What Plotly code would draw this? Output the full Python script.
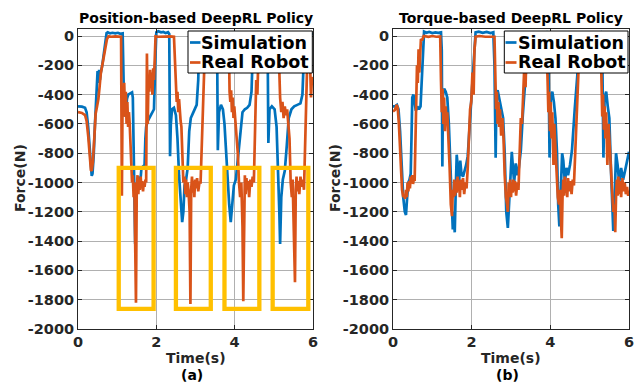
import plotly.graph_objects as go

# ---------------- data ----------------
# (a) Position-based DeepRL Policy
t_sim_a = [0.00,0.10,0.18,0.22,0.26,0.30,0.33,0.35,0.37,0.40,0.43,0.46,0.48,0.50,0.52,0.54,0.56,0.58,0.62,0.66,0.70,0.73,0.76,0.82,0.88,0.95,1.02,1.08,1.14,
           1.16,1.18,1.22,1.25,1.28,1.33,1.38,1.40,1.42,1.44,1.46,1.48,1.50,1.53,1.56,1.59,1.62,1.66,1.70,1.72,1.74,1.78,1.84,1.90,1.94,1.97,
           2.00,2.05,2.12,2.18,2.24,2.30,2.33,2.35,2.37,2.40,2.45,2.50,2.54,2.58,2.62,2.66,2.69,2.72,2.76,2.80,2.84,2.88,2.93,2.98,3.03,3.07,
           3.10,3.15,3.30,3.45,3.55,3.57,3.60,3.65,3.70,3.74,3.80,3.86,3.90,3.94,3.98,4.03,4.08,4.14,4.20,4.26,4.32,4.38,4.43,4.47,
           4.50,4.70,4.84,4.86,4.89,4.95,5.02,5.07,5.11,5.14,5.16,5.19,5.23,5.28,5.33,5.38,5.45,5.52,5.60,5.68,5.73,5.76,5.79,6.00]
f_sim_a = [-480,-482,-490,-520,-620,-800,-920,-955,-940,-820,-620,-420,-280,-240,-320,-230,-300,-250,-200,-120,-40,20,25,18,22,18,22,15,18,
           -200,-520,-550,-430,-400,-390,-385,-420,-700,-1000,-1420,-1100,-1050,-1000,-960,-1000,-900,-890,-880,-700,-620,-580,-550,-530,-500,-200,
           25,32,25,28,20,26,15,-820,-600,-500,-490,-540,-700,-950,-1150,-1270,-1200,-1020,-980,-900,-650,-560,-530,-500,-470,-300,
           0,20,20,20,15,-780,-520,-470,-500,-600,-900,-1150,-1270,-1150,-1020,-980,-850,-650,-520,-500,-490,-470,-380,-50,
           20,20,15,-730,-500,-480,-500,-620,-900,-1200,-1420,-1100,-980,-920,-750,-560,-500,-480,-470,-460,-400,-100,20,15]

t_real_a = [0.00,0.10,0.18,0.22,0.26,0.30,0.33,0.35,0.38,0.42,0.45,0.48,0.50,0.52,0.55,0.58,0.62,0.66,0.70,0.74,0.78,0.85,0.95,1.05,1.10,
            1.12,1.14,1.16,1.18,1.20,1.22,1.24,1.26,1.28,1.30,1.32,1.35,1.38,1.40,1.42,1.44,1.46,1.48,1.50,1.52,1.54,1.56,1.58,1.60,1.62,1.64,
            1.66,1.68,1.70,1.72,1.74,1.76,1.78,1.80,1.82,1.84,1.86,1.88,1.90,1.92,1.94,1.96,1.98,2.05,2.15,2.25,2.35,2.45,
            2.48,2.50,2.52,2.54,2.56,2.58,2.60,2.62,2.64,2.66,2.69,2.72,2.74,2.76,2.78,2.80,2.82,2.85,2.87,2.89,2.91,2.93,2.95,2.97,2.99,
            3.01,3.04,3.07,3.10,3.13,3.16,3.19,3.22,3.26,3.35,3.50,3.65,3.80,3.85,
            3.87,3.89,3.91,3.93,3.95,3.97,3.99,4.02,4.05,4.08,4.11,4.14,4.17,4.20,4.22,4.24,4.26,4.28,4.30,4.32,4.34,4.37,4.40,4.43,4.46,4.49,
            4.52,4.55,4.58,4.61,4.64,4.80,4.95,5.10,
            5.13,5.16,5.19,5.22,5.25,5.28,5.31,5.34,5.37,5.40,5.43,5.46,5.48,5.50,5.52,5.54,5.56,5.58,5.60,5.62,5.65,5.68,5.71,5.74,5.77,
            5.80,5.83,5.86,5.89,5.92,5.95,5.97,6.00]
f_real_a = [-520,-525,-540,-580,-680,-830,-915,-920,-860,-680,-530,-490,-470,-430,-350,-260,-200,-140,-80,-20,-2,-5,-3,-5,-5,
            -1090,-350,-420,-320,-550,-380,-600,-450,-620,-520,-600,-780,-1000,-950,-1100,-1000,-1300,-1820,-1050,-950,-1080,-980,-1050,-960,-1040,-990,
            -1060,-1000,-1030,-980,-1000,-120,-600,-300,-380,-230,-350,-250,-400,-220,-300,-150,-2,-5,-3,-5,-3,-5,
            -250,-380,-450,-380,-520,-430,-560,-580,-620,-800,-1000,-960,-1080,-980,-1100,-1000,-1050,-1200,-1830,-1050,-960,-1070,-990,-1100,-980,
            -1040,-970,-1060,-1000,-1000,-800,-500,-250,-20,0,-5,-3,-5,-10,
            -380,-450,-370,-520,-420,-560,-480,-580,-640,-800,-1000,-1100,-1000,-1300,-1810,-1050,-950,-1080,-970,-1040,-990,-1100,-980,-1030,-960,-1000,
            -700,-300,-400,-100,-5,-3,-5,-5,
            -150,-420,-520,-450,-560,-480,-540,-500,-580,-700,-1000,-1100,-980,-1250,-1400,-1680,-1050,-960,-1060,-990,-1080,-960,-1030,-980,-1050,
            -700,-300,-100,-20,-150,-420,-300,-280]

# (b) Torque-based DeepRL Policy
t_sim_b = [0.00,0.05,0.10,0.14,0.18,0.22,0.26,0.30,0.33,0.36,0.39,0.42,0.45,0.47,0.49,0.52,0.55,0.58,0.62,0.66,0.70,0.73,0.76,0.79,0.85,0.92,1.00,1.08,1.15,1.22,
           1.24,1.255,1.27,1.30,1.34,1.38,1.42,1.46,1.50,1.52,1.54,1.57,1.60,1.62,1.65,1.68,1.71,1.74,1.78,1.82,1.86,1.90,1.95,1.99,2.03,2.07,
           2.10,2.18,2.28,2.38,2.48,2.55,2.58,2.61,2.63,2.66,2.70,2.75,2.80,2.84,2.88,2.92,2.95,2.98,3.02,3.05,3.08,3.12,3.16,3.20,3.25,3.30,3.35,3.40,
           3.45,3.60,3.75,3.90,3.95,3.98,4.01,4.05,4.09,4.13,4.17,4.20,4.23,4.26,4.30,4.33,4.37,4.41,4.45,4.50,4.55,4.62,4.68,4.74,
           4.80,5.00,5.15,5.28,5.32,5.35,5.38,5.42,5.46,5.50,5.54,5.57,5.60,5.63,5.67,5.71,5.75,5.80,5.85,5.90,5.95,6.00]
f_sim_b = [-480,-480,-470,-500,-650,-900,-1100,-1200,-1222,-1100,-1000,-980,-940,-700,-420,-400,-480,-510,-480,-500,-480,-300,-50,30,22,28,20,25,22,25,
           -100,-890,-400,-360,-380,-420,-600,-900,-1200,-1320,-1200,-1340,-1000,-810,-900,-1000,-850,-940,-960,-920,-880,-820,-600,-400,-200,-50,
           25,30,22,28,20,25,-200,-830,-400,-370,-420,-480,-560,-800,-1200,-1310,-1150,-1000,-790,-900,-1000,-870,-950,-900,-780,-540,-350,-150,
           20,25,20,25,-100,-830,-420,-380,-450,-560,-800,-1150,-1300,-1100,-800,-850,-1000,-900,-950,-880,-780,-500,-300,-80,
           20,25,20,25,-100,-830,-420,-380,-480,-560,-900,-1200,-1330,-1150,-800,-880,-1000,-900,-980,-920,-850,-790]

t_real_b = [0.00,0.05,0.09,0.12,0.15,0.19,0.23,0.26,0.28,0.31,0.33,0.35,0.37,0.39,0.41,0.43,0.45,0.47,0.49,0.51,0.53,0.55,0.57,0.59,0.61,0.63,0.65,0.67,0.69,0.71,0.74,
            0.78,0.90,1.00,1.10,1.20,
            1.22,1.24,1.26,1.28,1.30,1.32,1.34,1.36,1.38,1.41,1.44,1.47,1.50,1.52,1.54,1.56,1.58,1.60,1.62,1.64,1.66,1.68,1.70,1.72,1.75,1.78,1.81,1.84,1.87,
            1.90,1.93,1.96,1.99,2.02,2.05,2.07,2.10,2.20,2.35,2.50,2.58,
            2.60,2.62,2.64,2.66,2.68,2.70,2.72,2.75,2.78,2.81,2.84,2.87,2.90,2.92,2.94,2.96,2.98,3.00,3.02,3.04,3.06,3.08,3.10,3.13,3.16,3.19,
            3.22,3.25,3.28,3.31,3.34,3.37,3.40,3.45,3.60,3.75,3.90,
            3.93,3.95,3.97,3.99,4.01,4.03,4.05,4.08,4.10,4.13,4.16,4.19,4.22,4.25,4.27,4.29,4.31,4.33,4.35,4.37,4.39,4.41,4.43,4.45,4.48,4.51,4.54,4.57,4.60,
            4.63,4.66,4.69,4.72,4.75,4.90,5.05,5.20,5.28,
            5.30,5.32,5.34,5.36,5.38,5.40,5.42,5.45,5.48,5.51,5.54,5.57,5.60,5.63,5.65,5.67,5.69,5.71,5.73,5.75,5.77,5.80,5.83,5.86,5.89,5.92,5.95,5.98,6.00]
f_real_b = [-515,-505,-470,-490,-600,-850,-1050,-1100,-1090,-1110,-1050,-1100,-1000,-1060,-990,-1040,-960,-1000,-950,-1010,-970,-990,-700,-330,-200,-320,-90,-250,-60,-20,-30,
            0,-5,0,-5,-3,
            -300,-520,-360,-600,-420,-650,-480,-600,-520,-680,-900,-1150,-1230,-1050,-1100,-980,-1090,-1000,-1070,-960,-1050,-990,-1100,-980,-1050,-970,-1080,-1000,-1040,
            -900,-700,-500,-450,-250,-400,-100,-5,0,-5,-3,-5,
            -250,-500,-380,-600,-450,-620,-500,-680,-560,-700,-950,-1100,-1150,-1200,-1000,-1080,-980,-1100,-1000,-1070,-980,-1060,-990,-1090,-1000,-1050,
            -800,-560,-600,-400,-200,-350,-20,0,-5,0,-5,
            -300,-520,-380,-650,-450,-700,-520,-880,-600,-750,-950,-1100,-1150,-1050,-1250,-1380,-1100,-980,-1090,-960,-1070,-1000,-1100,-970,-1060,-990,-1080,-980,-1020,
            -800,-550,-350,-100,-10,-5,0,-5,-5,
            -300,-550,-400,-640,-480,-700,-520,-880,-600,-750,-950,-1100,-1200,-1150,-1340,-1100,-980,-1090,-960,-1080,-990,-1100,-970,-1060,-1000,-1080,-1030,-1090,-1070]

# highlighted windows on panel (a): (t_start, t_end, f_low, f_high)
highlight_windows = [(1.04, 1.93, -1862, -900), (2.50, 3.39, -1862, -900),
                     (3.74, 4.63, -1862, -900), (4.97, 5.88, -1862, -900)]

y_ticks = list(range(-2000, 1, 200))
y_ticktext = [str(v) for v in y_ticks]
x_ticks = [0, 2, 4, 6]
x_ticktext = [str(v) for v in x_ticks]
series_names = ["Simulation", "Real Robot"]
panel_titles = ["Position-based DeepRL Policy", "Torque-based DeepRL Policy"]
panel_labels = ["(a)", "(b)"]

# ---------------- styling ----------------
W, H = 641, 384
BLUE, ORANGE, GOLD = "#0072BD", "#D95319", "#FFC000"
FONT = "DejaVu Sans"
AX = "#262626"
GRID = "#b0b0b0"
LW = 2.7

def px(p):
    return p / W

def py(p):
    return 1 - p / H

fig = go.Figure()
fig.add_trace(go.Scatter(x=t_sim_a, y=f_sim_a, mode="lines", name=series_names[0],
                         line=dict(color=BLUE, width=LW), xaxis="x", yaxis="y", showlegend=False))
fig.add_trace(go.Scatter(x=t_real_a, y=f_real_a, mode="lines", name=series_names[1],
                         line=dict(color=ORANGE, width=LW), xaxis="x", yaxis="y", showlegend=False))
fig.add_trace(go.Scatter(x=t_sim_b, y=f_sim_b, mode="lines", name=series_names[0],
                         line=dict(color=BLUE, width=LW), xaxis="x2", yaxis="y2", showlegend=False))
fig.add_trace(go.Scatter(x=t_real_b, y=f_real_b, mode="lines", name=series_names[1],
                         line=dict(color=ORANGE, width=LW), xaxis="x2", yaxis="y2", showlegend=False))

tickfont = dict(family=FONT, size=14.5, color=AX, weight="bold")
ydom = [py(329), py(28.7)]

def xaxis(domain, anchor):
    return dict(domain=domain, anchor=anchor, range=[0, 6], tickvals=x_ticks, ticktext=x_ticktext,
                showgrid=True, gridcolor=GRID, gridwidth=1, zeroline=False, automargin=False,
                showline=True, linecolor=AX, linewidth=1, mirror="ticks",
                ticks="inside", ticklen=4, tickcolor=AX, tickfont=tickfont)

def yaxis(anchor):
    return dict(domain=ydom, anchor=anchor, range=[-2000, 50], tickvals=y_ticks, ticktext=y_ticktext,
                showgrid=True, gridcolor=GRID, gridwidth=1, zeroline=False, automargin=False,
                showline=True, linecolor=AX, linewidth=1, mirror="ticks",
                ticks="inside", ticklen=4, tickcolor=AX, tickfont=tickfont)

shapes = []
for (t0, t1, f0, f1) in highlight_windows:
    shapes.append(dict(type="rect", xref="x", yref="y", x0=t0, x1=t1, y0=f0, y1=f1,
                       line=dict(color=GOLD, width=4.3), fillcolor="rgba(0,0,0,0)", layer="above"))

annotations = []
panels = [dict(left=78, right=313, legend=(188, 312.3, 190, 200.5)),
          dict(left=393, right=629, legend=(504.3, 628, 505.5, 516.5))]
for i, p in enumerate(panels):
    cx = (p["left"] + p["right"]) / 2
    annotations.append(dict(text=panel_titles[i], x=px(cx), y=py(18), xref="paper", yref="paper",
                            xanchor="center", yanchor="middle", showarrow=False,
                            font=dict(family=FONT, size=14, color="#000000", weight="bold")))
    annotations.append(dict(text="Time(s)", x=px(cx), y=py(358), xref="paper", yref="paper",
                            xanchor="center", yanchor="middle", showarrow=False,
                            font=dict(family=FONT, size=14, color=AX, weight="bold")))
    annotations.append(dict(text=panel_labels[i], x=px(cx - 4), y=py(375), xref="paper", yref="paper",
                            xanchor="center", yanchor="middle", showarrow=False,
                            font=dict(family=FONT, size=14, color="#000000", weight="bold")))
    annotations.append(dict(text="Force(N)", x=px(p["left"] - 58), y=py(178), xref="paper", yref="paper",
                            xanchor="center", yanchor="middle", showarrow=False, textangle=-90,
                            font=dict(family=FONT, size=14, color=AX, weight="bold")))
    lx0, lx1, sx0, sx1 = p["legend"]
    shapes.append(dict(type="rect", xref="paper", yref="paper", x0=px(lx0), x1=px(lx1), y0=py(73), y1=py(31),
                       line=dict(color="#000000", width=1), fillcolor="white", layer="above"))
    for j, (name, col, yy) in enumerate([(series_names[0], BLUE, 42.5), (series_names[1], ORANGE, 62.5)]):
        shapes.append(dict(type="line", xref="paper", yref="paper", x0=px(sx0), x1=px(sx1), y0=py(yy), y1=py(yy),
                           line=dict(color=col, width=LW), layer="above"))
        annotations.append(dict(text=name, x=px(sx1 - 1), y=py(yy), xref="paper", yref="paper",
                                xanchor="left", yanchor="middle", showarrow=False,
                                font=dict(family=FONT, size=17.5, color="#000000", weight="bold")))

fig.update_layout(
    width=W, height=H, margin=dict(l=0, r=0, t=0, b=0),
    paper_bgcolor="white", plot_bgcolor="white",
    xaxis=xaxis([px(78), px(313)], "y"),
    yaxis=yaxis("x"),
    xaxis2=xaxis([px(393), px(629)], "y2"),
    yaxis2=yaxis("x2"),
    shapes=shapes, annotations=annotations, showlegend=False,
)

fig.write_html("out.html")
